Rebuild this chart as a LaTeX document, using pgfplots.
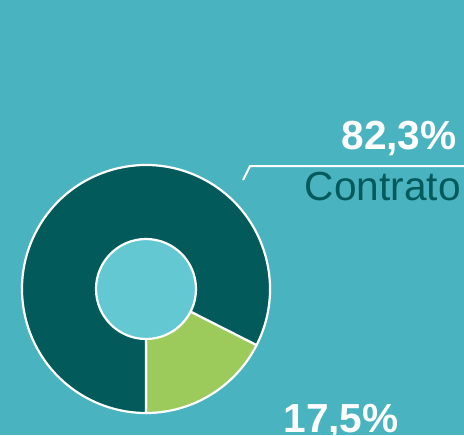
\documentclass[border=0pt]{standalone}
\usepackage{pgfplots}
\pgfplotsset{compat=1.18}
\usepackage{pgfplotstable}
\usepackage{fontspec}
\setmainfont{Liberation Sans}

\definecolor{bgcol}{RGB}{74,179,192}
\definecolor{darkteal}{RGB}{2,90,91}
\definecolor{limegreen}{RGB}{156,203,91}
\definecolor{innercyan}{RGB}{100,200,211}

% share of each slice, in percent
\pgfplotstableread{
label    value
Outro    17.5
Contrato 82.3
}\pietable
\pgfplotstablegetelem{0}{value}\of\pietable \let\va\pgfplotsretval
\pgfplotstablegetelem{1}{value}\of\pietable \let\vb\pgfplotsretval
\pgfmathsetmacro\total{\va+\vb}
\pgfmathsetmacro\angA{-90+360*\va/\total}
\def\px{0.5pt}

\begin{document}%
\begin{tikzpicture}
\begin{axis}[
    x=\px, y=\px,
    xmin=0, xmax=464, ymin=0, ymax=435,
    hide axis,
    clip=true,
]
    \coordinate (sw) at (axis cs:0,0);
    \coordinate (ne) at (axis cs:464,435);
    % background
    \fill[bgcol] (axis cs:0,0) rectangle (axis cs:464,435);
    % donut slices
    \filldraw[fill=limegreen, draw=white, line width=1.1pt, line join=round]
        (axis cs:146,146) -- ++(-90:124*\px)
        arc[start angle=-90, end angle=\angA, radius=124*\px] -- cycle;
    \filldraw[fill=darkteal, draw=white, line width=1.1pt, line join=round]
        (axis cs:146,146) -- ++(\angA:124*\px)
        arc[start angle=\angA, end angle=270, radius=124*\px] -- cycle;
    \filldraw[fill=innercyan, draw=white, line width=1.1pt]
        (axis cs:146,146) circle[radius=50*\px];
    % callout
    \draw[white, line width=1pt] (axis cs:243,255) -- (axis cs:250,269) -- (axis cs:466,269);
    \node[anchor=base east, text=white, inner sep=0pt]
        at (axis cs:457,286) {\fontsize{20.3}{21}\selectfont\bfseries 82,3\%};
    \node[anchor=base east, text=darkteal, inner sep=0pt]
        at (axis cs:461,235) {\fontsize{20.3}{21}\selectfont Contrato};
    \node[anchor=base east, text=white, inner sep=0pt]
        at (axis cs:399,3) {\fontsize{20.3}{21}\selectfont\bfseries 17,5\%};
\end{axis}
\pgfresetboundingbox
\path (sw) rectangle (ne);
\end{tikzpicture}%
\end{document}
